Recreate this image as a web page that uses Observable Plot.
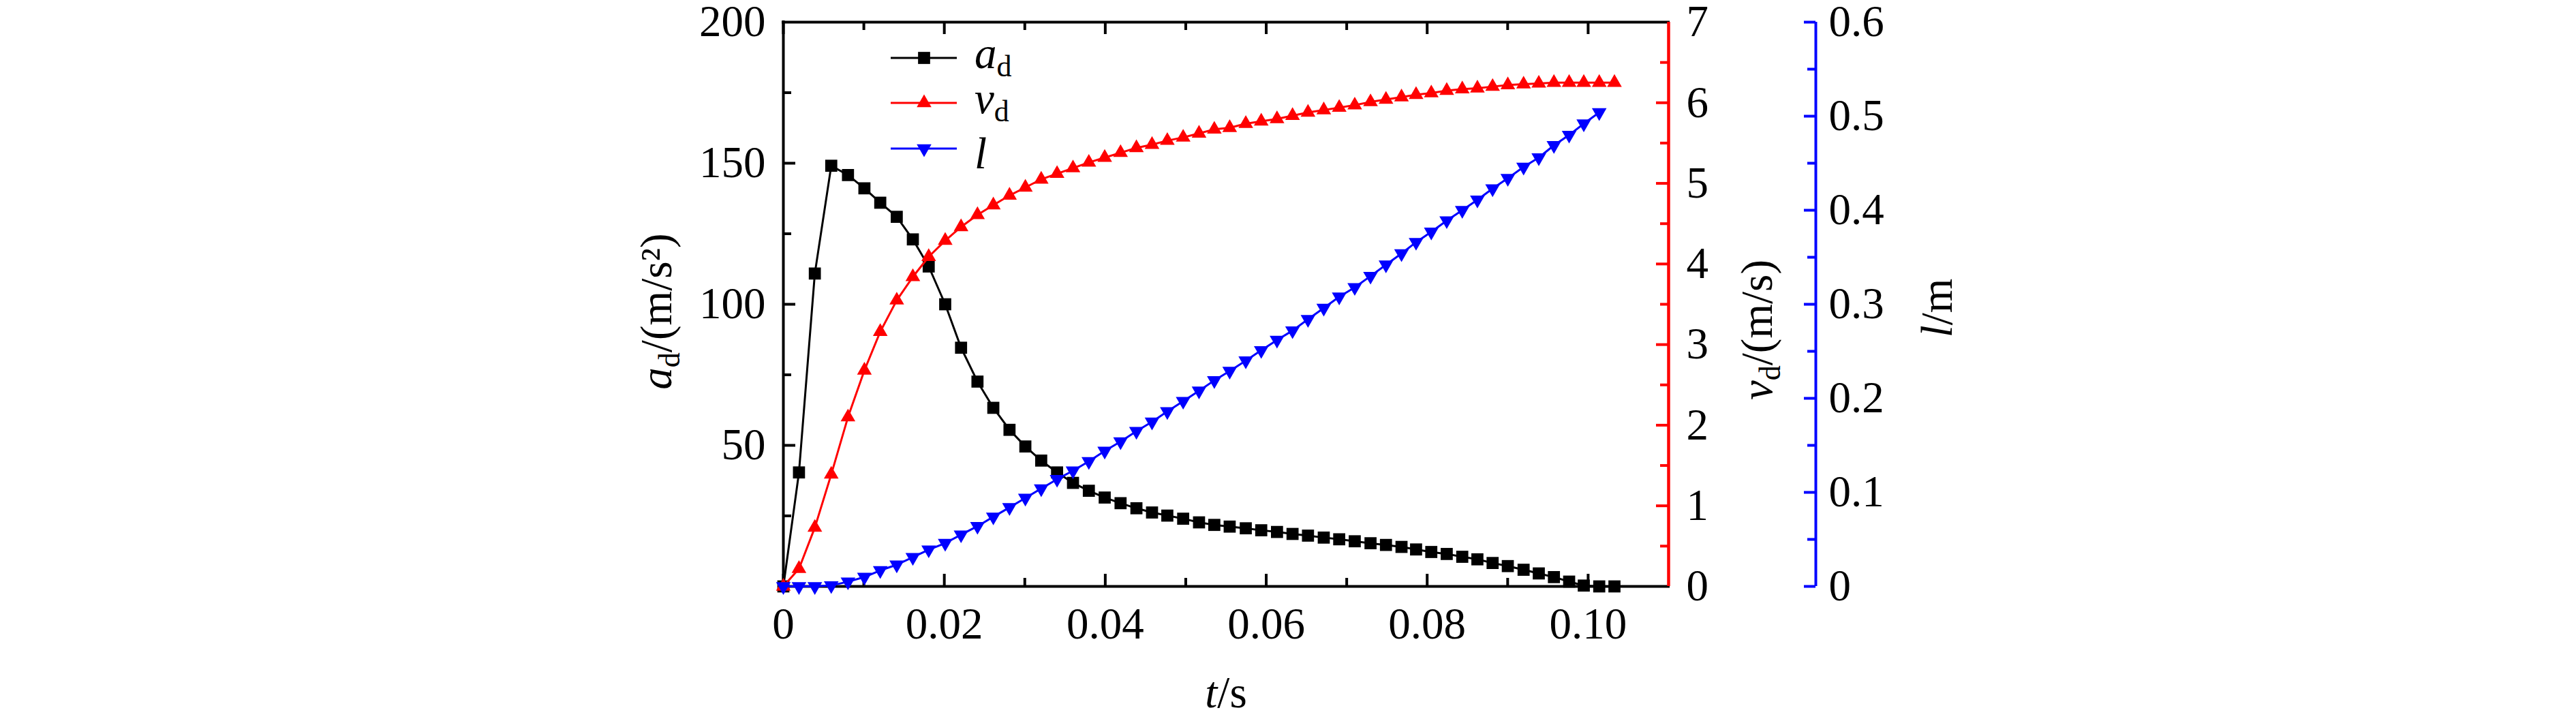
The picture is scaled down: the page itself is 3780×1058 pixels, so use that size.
<!DOCTYPE html>
<html><head><meta charset="utf-8">
<script src="https://cdn.jsdelivr.net/npm/d3@7"></script>
<script src="https://cdn.jsdelivr.net/npm/@observablehq/plot@0.6"></script>
<style>
body{margin:0;background:#fff;}
#chart{position:relative;width:3780px;height:1058px;}
#chart svg{position:absolute;left:0;top:0;}
</style></head><body><div id="chart"></div>
<script>
// ---- data ----
const time = [0, 0.00194, 0.00391, 0.00595, 0.00803, 0.01007, 0.01204, 0.01409, 0.01609, 0.01806,
  0.02011, 0.02208, 0.02412, 0.02609, 0.02810, 0.03007, 0.03204, 0.03401, 0.03599, 0.03796,
  0.03993, 0.04190, 0.04387, 0.04581, 0.04771, 0.04968, 0.05165, 0.05355, 0.05546, 0.05746,
  0.05938, 0.06134, 0.06327, 0.06519, 0.06715, 0.06907, 0.07100, 0.07296, 0.07488, 0.07681,
  0.07862, 0.08051, 0.08243, 0.08436, 0.08624, 0.08813, 0.09002, 0.09198, 0.09387, 0.09575,
  0.09764, 0.09946, 0.10138, 0.10327];
const accel = [0, 40.4, 110.9, 149.1, 145.8, 141.1, 136.0, 131.0, 123.0, 113.4,
  100.0, 84.6, 72.6, 63.3, 55.5, 49.6, 44.6, 40.4, 36.7, 33.9,
  31.5, 29.5, 27.7, 26.2, 25.1, 24.0, 22.7, 21.8, 21.2, 20.6,
  19.9, 19.3, 18.6, 18.0, 17.3, 16.7, 16.0, 15.3, 14.7, 14.0,
  13.1, 12.2, 11.5, 10.5, 9.6, 8.3, 7.2, 5.9, 4.6, 3.3,
  1.7, 0.3, 0, 0];
const velocity = [0, 0.22, 0.73, 1.39, 2.10, 2.68, 3.16, 3.55, 3.84, 4.09,
  4.29, 4.46, 4.61, 4.73, 4.85, 4.95, 5.05, 5.12, 5.19, 5.26,
  5.32, 5.38, 5.44, 5.48, 5.53, 5.57, 5.62, 5.67, 5.69, 5.74,
  5.77, 5.80, 5.84, 5.88, 5.91, 5.94, 5.97, 6.01, 6.04, 6.07,
  6.10, 6.12, 6.15, 6.17, 6.18, 6.20, 6.22, 6.23, 6.24, 6.25,
  6.25, 6.25, 6.25, 6.25];
const lengthL = [0, 0, 0, 0.001, 0.005, 0.010, 0.017, 0.023, 0.031, 0.039,
  0.046, 0.055, 0.064, 0.074, 0.084, 0.094, 0.104, 0.114, 0.123, 0.133,
  0.144, 0.154, 0.165, 0.175, 0.186, 0.197, 0.208, 0.219, 0.229, 0.240,
  0.251, 0.262, 0.272, 0.284, 0.296, 0.308, 0.318, 0.330, 0.342, 0.354,
  0.366, 0.377, 0.389, 0.400, 0.411, 0.423, 0.434, 0.446, 0.456, 0.469,
  0.480, 0.492, 0.504];

const xMajor = [0, 0.02, 0.04, 0.06, 0.08, 0.10];
const xMinor = [0.01, 0.03, 0.05, 0.07, 0.09];
const aLabels = [50, 100, 150, 200];
const aMajor = [50, 100, 150];
const aMinor = [25, 75, 125, 175];
const vLabels = [0, 1, 2, 3, 4, 5, 6, 7];
const vMajor = [1, 2, 3, 4, 5, 6];
const vMinor = [0.5, 1.5, 2.5, 3.5, 4.5, 5.5, 6.5];
const lLabels = [0, 0.1, 0.2, 0.3, 0.4, 0.5, 0.6];
const lMinor = [0.05, 0.15, 0.25, 0.35, 0.45, 0.55];

const RED = "#ff0000", BLUE = "#0000ff";
const W = 3780, H = 1058;
const ML = 1149, MR = W - 2448, MT = 32, MB = H - 860;
const PW = W - ML - MR, PH = H - MT - MB;
const FONT = "'Liberation Serif', 'Times New Roman', serif";
const FS = 65;

const black = time.map((t, i) => ({t, v: accel[i]}));
const red = time.map((t, i) => ({t, v: velocity[i]}));
const blue = lengthL.map((v, i) => ({t: time[i], v}));

const downTriangle = {
  draw(context, size) {
    const h = Math.sqrt(size / (Math.sqrt(3) * 3));
    context.moveTo(0, 2 * h);
    context.lineTo(-Math.sqrt(3) * h, -h);
    context.lineTo(Math.sqrt(3) * h, -h);
    context.closePath();
  }
};

const style = {fontFamily: FONT, fontSize: FS + "px", background: "transparent", overflow: "visible", maxWidth: "none"};
const base = {width: W, height: H, marginLeft: ML, marginRight: MR, marginTop: MT, marginBottom: MB, style};
const fmtX = d => d === 0 ? "0" : d.toFixed(2);

// main plot: black series, left axis, x axes, frame
const plotA = Plot.plot({
  ...base,
  x: {domain: [0, 0.11]},
  y: {domain: [0, 200]},
  marks: [
    Plot.tickX(xMajor, {x: d => d, insetTop: PH - 18, stroke: "black", strokeWidth: 4}),
    Plot.tickX(xMinor, {x: d => d, insetTop: PH - 12, stroke: "black", strokeWidth: 4}),
    Plot.tickX(xMajor, {x: d => d, insetBottom: PH - 18, stroke: "black", strokeWidth: 4}),
    Plot.tickX(xMinor, {x: d => d, insetBottom: PH - 12, stroke: "black", strokeWidth: 4}),
    Plot.tickY(aMajor, {y: d => d, insetRight: PW - 18, stroke: "black", strokeWidth: 4}),
    Plot.tickY(aMinor, {y: d => d, insetRight: PW - 12, stroke: "black", strokeWidth: 4}),
    Plot.axisX({ticks: xMajor, tickSize: 0, tickPadding: 30, tickFormat: fmtX, fontSize: FS, label: null}),
    Plot.axisY({ticks: aLabels, anchor: "left", tickSize: 0, tickPadding: 26, fontSize: FS, tickFormat: d => String(d), label: null}),
    Plot.ruleY([0, 200], {stroke: "black", strokeWidth: 4, strokeLinecap: "square"}),
    Plot.ruleX([0], {stroke: "black", strokeWidth: 4, strokeLinecap: "square"}),
    Plot.line(black, {x: "t", y: "v", stroke: "black", strokeWidth: 3}),
    Plot.dot(black, {x: "t", y: "v", symbol: "square", r: 10, fill: "black"})
  ]
});

// red series with right axis
const plotB = Plot.plot({
  ...base,
  x: {domain: [0, 0.11], axis: null},
  y: {domain: [0, 7]},
  marks: [
    Plot.tickY(vMajor, {y: d => d, insetLeft: PW - 18, stroke: RED, strokeWidth: 4}),
    Plot.tickY(vMinor, {y: d => d, insetLeft: PW - 12, stroke: RED, strokeWidth: 4}),
    Plot.ruleX([0.11], {stroke: RED, strokeWidth: 4.5}),
    Plot.axisY({ticks: vLabels, anchor: "right", tickSize: 0, tickPadding: 26, fontSize: FS, fill: "black", tickFormat: d => String(d), label: null}),
    Plot.line(red, {x: "t", y: "v", stroke: RED, strokeWidth: 3}),
    Plot.dot(red, {x: "t", y: "v", symbol: "triangle", r: 8, fill: RED})
  ]
});

// blue series
const plotC = Plot.plot({
  ...base,
  x: {domain: [0, 0.11], axis: null},
  y: {domain: [0, 0.6], axis: null},
  marks: [
    Plot.line(blue, {x: "t", y: "v", stroke: BLUE, strokeWidth: 3}),
    Plot.dot(blue, {x: "t", y: "v", symbol: downTriangle, r: 8, fill: BLUE})
  ]
});

// blue offset axis
const AX = 2664, AW = 100;
const plotD = Plot.plot({
  ...base,
  marginLeft: AX - AW, marginRight: W - AX,
  x: {domain: [0, 1], axis: null},
  y: {domain: [0, 0.6]},
  marks: [
    Plot.tickY(lLabels, {y: d => d, insetLeft: AW - 17, stroke: BLUE, strokeWidth: 4}),
    Plot.tickY(lMinor, {y: d => d, insetLeft: AW - 12, stroke: BLUE, strokeWidth: 4}),
    Plot.ruleX([1], {stroke: BLUE, strokeWidth: 4}),
    Plot.axisY({ticks: lLabels, anchor: "right", tickSize: 0, tickPadding: 19, fontSize: FS, tickFormat: d => d === 0 ? "0" : d.toFixed(1), label: null})
  ]
});

const chart = document.getElementById("chart");
[plotA, plotB, plotC, plotD].forEach(p => chart.appendChild(p));

// titles and legend
const svg = d3.select(chart).append("svg")
  .attr("width", W).attr("height", H)
  .style("font-family", FONT).style("font-size", FS + "px");

function subLabel(g, main, sub, rest) {
  g.append("tspan").attr("font-style", "italic").text(main);
  if (sub) g.append("tspan").attr("font-size", 44).attr("dy", 12).text(sub);
  if (rest) g.append("tspan").attr("dy", sub ? -12 : 0).text(rest);
}

const tA = svg.append("text").attr("text-anchor", "middle").attr("transform", "translate(985,457) rotate(-90)");
subLabel(tA, "a", "d", "/(m/s²)");
const tV = svg.append("text").attr("text-anchor", "middle").attr("transform", "translate(2600,484) rotate(-90)");
subLabel(tV, "v", "d", "/(m/s)");
const tL = svg.append("text").attr("text-anchor", "middle").attr("transform", "translate(2864,452) rotate(-90)");
subLabel(tL, "l", null, "/m");
const tT = svg.append("text").attr("text-anchor", "middle").attr("x", 1799).attr("y", 1038);
subLabel(tT, "t", null, "/s");

const legend = [
  {y: 85, base: 100, color: "black", sym: d3.symbolSquare, r: 10, main: "a", sub: "d"},
  {y: 151, base: 166, color: RED, sym: d3.symbolTriangle, r: 8, main: "v", sub: "d"},
  {y: 218, base: 247, color: BLUE, sym: downTriangle, r: 8, main: "l", sub: null}
];
legend.forEach(e => {
  svg.append("line").attr("x1", 1307).attr("x2", 1404).attr("y1", e.y).attr("y2", e.y)
    .attr("stroke", e.color).attr("stroke-width", 3);
  svg.append("path").attr("transform", `translate(1356,${e.y})`)
    .attr("d", d3.symbol(e.sym, Math.PI * e.r * e.r)()).attr("fill", e.color);
  const t = svg.append("text").attr("x", 1430).attr("y", e.base);
  subLabel(t, e.main, e.sub, null);
});
</script></body></html>
